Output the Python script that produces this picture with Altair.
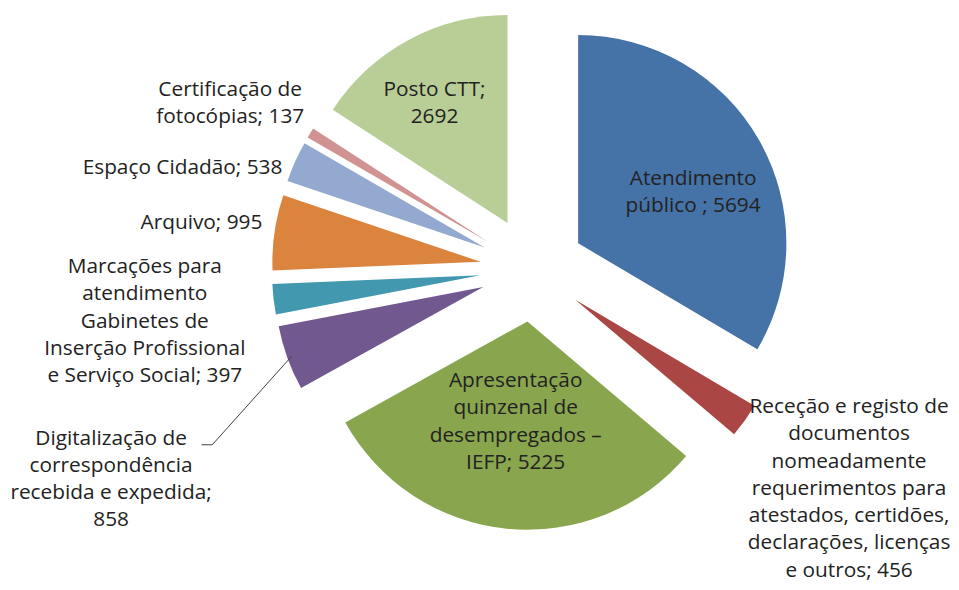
import altair as alt
import pandas as pd

# ---- data -------------------------------------------------------------
categories = [
    "Atendimento público",
    "Receção e registo de documentos",
    "Apresentação quinzenal de desempregados – IEFP",
    "Digitalização de correspondência recebida e expedida",
    "Marcações para atendimento Gabinetes de Inserção Profissional e Serviço Social",
    "Arquivo",
    "Espaço Cidadão",
    "Certificação de fotocópias",
    "Posto CTT",
]
values = [5694, 456, 5225, 858, 397, 995, 538, 137, 2692]
label_templates = [
    "Atendimento\npúblico  ; {}",
    "Receção e registo de\ndocumentos\nnomeadamente\nrequerimentos para\natestados, certidões,\ndeclarações, licenças\ne outros; {}",
    "Apresentação\nquinzenal de\ndesempregados –\nIEFP; {}",
    "Digitalização de\ncorrespondência\nrecebida e expedida;\n{}",
    "Marcações para\natendimento\nGabinetes de\nInserção Profissional\ne Serviço Social; {}",
    "Arquivo; {}",
    "Espaço Cidadão; {}",
    "Certificação de\nfotocópias; {}",
    "Posto CTT;\n{}",
]
colors = ["#4572A7", "#AA4643", "#89A54E", "#71588F", "#4198AF",
          "#DB843D", "#93A9CF", "#D19392", "#B9CD96"]

# ---- layout: first-line label anchors, in pie-radius units from the pie centre
label_x = [0.771, 1.520, -0.081, -2.024, -1.862, -1.590, -1.681, -1.452, -0.471]
label_y = [0.433, -0.662, -0.538, -0.814, 0.010, 0.224, 0.486, 0.862, 0.862]
leader_start = (-1.590, -0.843)
leader_bend = (-1.538, -0.843)

EXPLODE = 0.252
R_PX = 210
W, H = 951, 574
CX, CY = 529, 261

df = pd.DataFrame({
    "order": list(range(len(values))),
    "category": categories,
    "value": values,
    "label": [t.format(v) for t, v in zip(label_templates, values)],
    "lx": label_x,
    "ly": label_y,
})

xs = alt.Scale(domain=[-1, 1], range=[CX - R_PX, CX + R_PX])
ys = alt.Scale(domain=[-1, 1], range=[CY + R_PX, CY - R_PX])

base = (
    alt.Chart(df)
    .transform_window(cum="sum(value)", sort=[alt.SortField("order")], frame=[None, 0])
    .transform_joinaggregate(total="sum(value)")
    .transform_calculate(
        a0="2*PI*(datum.cum - datum.value)/datum.total",
        a1="2*PI*datum.cum/datum.total",
    )
    .transform_calculate(mid="(datum.a0 + datum.a1)/2")
    .transform_calculate(
        cx=f"{EXPLODE}*sin(datum.mid)",
        cy=f"{EXPLODE}*cos(datum.mid)",
    )
)

slices = base.mark_arc(radius=R_PX).encode(
    theta=alt.Theta("a0:Q", scale=None, stack=None),
    theta2="a1:Q",
    x=alt.X("cx:Q", scale=xs, axis=None),
    y=alt.Y("cy:Q", scale=ys, axis=None),
    color=alt.Color("category:N", scale=alt.Scale(domain=categories, range=colors), legend=None),
    order=alt.Order("order:Q"),
)

labels = alt.Chart(df).mark_text(
    lineBreak="\n", font="Open Sans", fontSize=21, lineHeight=27.5,
    color="#222222", align="center", baseline="middle",
).encode(
    x=alt.X("lx:Q", scale=xs, axis=None),
    y=alt.Y("ly:Q", scale=ys, axis=None),
    text="label:N",
)

leader_diag = (
    base.transform_filter(alt.datum.order == 3)
    .transform_calculate(
        x0=str(leader_bend[0]), y0=str(leader_bend[1]),
        x1="datum.cx + 0.98*sin(datum.mid)", y1="datum.cy + 0.98*cos(datum.mid)",
    )
    .mark_rule(color="#404040", strokeWidth=1)
    .encode(
        x=alt.X("x0:Q", scale=xs, axis=None),
        y=alt.Y("y0:Q", scale=ys, axis=None),
        x2="x1:Q", y2="y1:Q",
    )
)
leader_flat = (
    base.transform_filter(alt.datum.order == 3)
    .transform_calculate(
        x0=str(leader_start[0]), y0=str(leader_start[1]),
        x1=str(leader_bend[0]), y1=str(leader_bend[1]),
    )
    .mark_rule(color="#404040", strokeWidth=1)
    .encode(
        x=alt.X("x0:Q", scale=xs, axis=None),
        y=alt.Y("y0:Q", scale=ys, axis=None),
        x2="x1:Q", y2="y1:Q",
    )
)

chart = (
    alt.layer(slices, leader_flat, leader_diag, labels)
    .properties(width=W, height=H, padding=0, autosize=alt.AutoSizeParams(type="none"))
    .configure_view(stroke=None)
)

chart.save("out.html", embed_options={"renderer": "svg", "actions": False})
